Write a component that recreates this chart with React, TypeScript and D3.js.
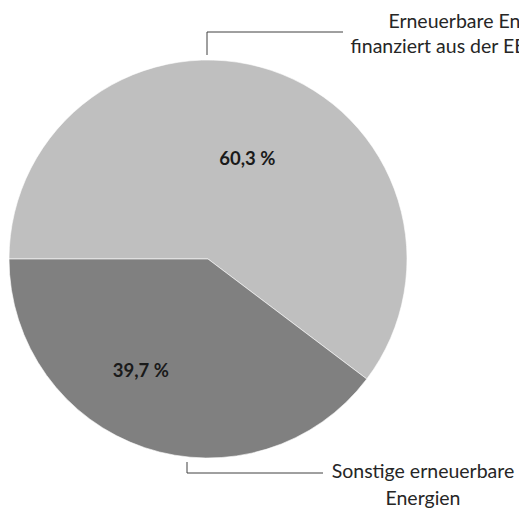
import React from 'react';
import * as d3 from 'd3';

const categories = ['Erneuerbare Energien finanziert aus der EEG-Umlage', 'Sonstige erneuerbare Energien'];
const shares = [60.3, 39.7];
const valueLabels = ['60,3 %', '39,7 %'];
const calloutLines = [['Erneuerbare Energien', 'finanziert aus der EEG-Umlage'], ['Sonstige erneuerbare', 'Energien']];
const colors = ['#bfbfbf', '#808080'];

const App: React.FC = () => {
  const width = 519;
  const height = 509;
  const cx = 208;
  const cy = 259;
  const radius = 199;
  const font = "Lato, 'Open Sans', sans-serif";

  const pie = d3.pie<number>().sort(null)
    .startAngle(-Math.PI / 2)
    .endAngle(Math.PI * 1.5);
  const arcs = pie(shares);
  const arc = d3.arc<d3.PieArcDatum<number>>().innerRadius(0).outerRadius(radius);

  // label placement: radius and small angle nudge per slice
  const labelRadius = [108, 130];
  const labelNudge = [0.05, 0.22];
  const labelPos = arcs.map((a, i) => {
    const ang = (a.startAngle + a.endAngle) / 2 + labelNudge[i];
    return [Math.sin(ang) * labelRadius[i], -Math.cos(ang) * labelRadius[i]];
  });

  return (
    <svg width={width} height={height} style={{position: 'absolute', left: 0, top: 0, background: '#fff'}}>
      <g transform={`translate(${cx}, ${cy})`}>
        {arcs.map((a, i) => (
          <path key={categories[i]} d={arc(a) || ''} fill={colors[i]} stroke="#fff" strokeWidth={0.6}/>
        ))}
        {arcs.map((a, i) => (
          <text key={'v' + i} x={labelPos[i][0]} y={labelPos[i][1]} textAnchor="middle" dominantBaseline="central"
            fontFamily={font} fontWeight="bold" fontSize={18.5} fill="#1a1a1a">{valueLabels[i]}</text>
        ))}
      </g>
      {/* callouts */}
      <polyline points={`${cx - 1},55 ${cx - 1},32 343,32`} fill="none" stroke="#404040" strokeWidth={1}/>
      <polyline points={`187,462 187,473 323,473`} fill="none" stroke="#404040" strokeWidth={1}/>
      <text fontFamily={font} fontSize={19.5} fill="#262626" textAnchor="middle">
        {calloutLines[0].map((l, i) => <tspan key={l} x={481} y={28 + i * 25}>{l}</tspan>)}
      </text>
      <text fontFamily={font} fontSize={19.5} fill="#262626" textAnchor="middle">
        {calloutLines[1].map((l, i) => <tspan key={l} x={423} y={478 + i * 27}>{l}</tspan>)}
      </text>
    </svg>
  );
};

export default App;
